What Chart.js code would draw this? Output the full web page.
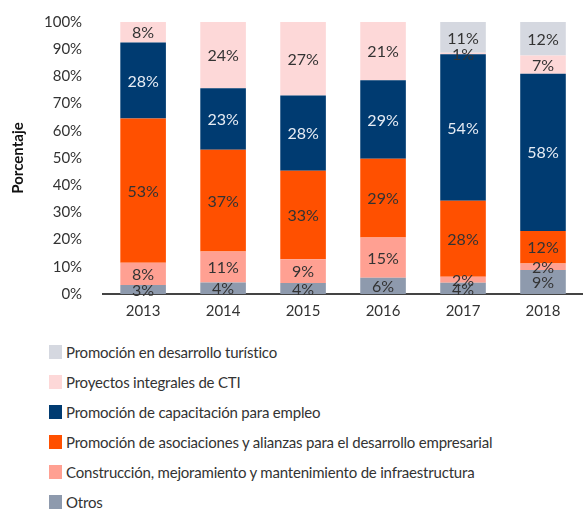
<!DOCTYPE html>
<html><head><meta charset="utf-8">
<script src="https://cdn.jsdelivr.net/npm/chart.js@4"></script>
<style>
html,body{margin:0;padding:0;background:#fff;width:583px;height:511px;overflow:hidden;font-family:Lato,"Noto Sans",sans-serif;}
#wrap{position:absolute;left:0;top:0;width:583px;height:320px;}
#legend{position:absolute;left:49px;top:337px;}
.li{display:flex;align-items:center;height:30px;font-size:15px;color:#333;letter-spacing:-0.2px;}
.sw{width:13px;height:14px;margin-right:4px;}
</style></head><body>
<div id="wrap"><canvas id="c"></canvas></div>
<div id="legend"></div>
<script>
const years = ["2013","2014","2015","2016","2017","2018"];
const otros = [3.3,4.2,4,6,4.1,8.8];
const construccion = [8.2,11.4,8.8,14.8,2.2,2.4];
const asociaciones = [53,37.4,32.5,28.9,28,12];
const capacitacion = [28,22.6,27.7,28.9,53.8,57.8];
const proyectosCTI = [7.5,24.4,27,21.4,0.6,6.7];
const turistico = [0,0,0,0,11.3,12.3];
const yTicks = [0,10,20,30,40,50,60,70,80,90,100];

const series = [
  {label:"Otros", data:otros, color:"#8e9aad", lbl:"#333"},
  {label:"Construcción, mejoramiento y mantenimiento de infraestructura", data:construccion, color:"#ffa092", lbl:"#333"},
  {label:"Promoción de asociaciones y alianzas para el desarrollo empresarial", data:asociaciones, color:"#ff5000", lbl:"#333"},
  {label:"Promoción de capacitación para empleo", data:capacitacion, color:"#003b71", lbl:"#e6ecf4"},
  {label:"Proyectos integrales de CTI", data:proyectosCTI, color:"#fdd8d8", lbl:"#333"},
  {label:"Promoción en desarrollo turístico", data:turistico, color:"#d5d8e0", lbl:"#333"}
];

const labelPlugin = {
  id:"segLabels",
  afterDatasetsDraw(chart){
    const ctx = chart.ctx;
    ctx.save();
    ctx.font = "16px Lato, 'Noto Sans', sans-serif";
    ctx.textAlign = "center";
    ctx.textBaseline = "middle";
    chart.data.datasets.forEach((ds,i)=>{
      const meta = chart.getDatasetMeta(i);
      meta.data.forEach((el,j)=>{
        const v = ds.data[j];
        if(!v) return;
        const {x,y,base} = el.getProps(["x","y","base"],true);
        ctx.fillStyle = series[i].lbl;
        ctx.fillText(Math.round(v)+"%", x, (y+base)/2+1);
      });
    });
    ctx.restore();
  }
};

new Chart(document.getElementById("c"),{
  type:"bar",
  data:{
    labels:years,
    datasets:series.map(s=>({label:s.label,data:s.data,backgroundColor:s.color,borderWidth:0,barPercentage:0.57,categoryPercentage:1}))
  },
  options:{
    responsive:true, maintainAspectRatio:false, animation:false,
    layout:{padding:{top:14,right:0,left:11,bottom:0}},
    plugins:{legend:{display:false},tooltip:{enabled:false}},
    scales:{
      x:{stacked:true, grid:{display:false}, border:{color:"#444",width:2},
         ticks:{color:"#333",font:{size:15,family:"Lato"},padding:0}},
      y:{stacked:true, min:0, max:100, grid:{display:false}, border:{display:false},
         afterBuildTicks(ax){ax.ticks = yTicks.map(v=>({value:v}));},
         ticks:{color:"#333",font:{size:15,family:"Lato"},padding:13,callback:v=>v+"%"},
         title:{display:true,text:"Porcentaje",color:"#111",font:{size:15,weight:"bold",family:"Lato",lineHeight:1},padding:{top:0,bottom:5}}}
    }
  },
  plugins:[labelPlugin]
});

const lg = document.getElementById("legend");
series.slice().reverse().forEach(s=>{
  const d = document.createElement("div"); d.className="li";
  const sw = document.createElement("span"); sw.className="sw"; sw.style.background=s.color;
  const t = document.createElement("span"); t.textContent = s.label;
  d.appendChild(sw); d.appendChild(t); lg.appendChild(d);
});
</script>
</body></html>
